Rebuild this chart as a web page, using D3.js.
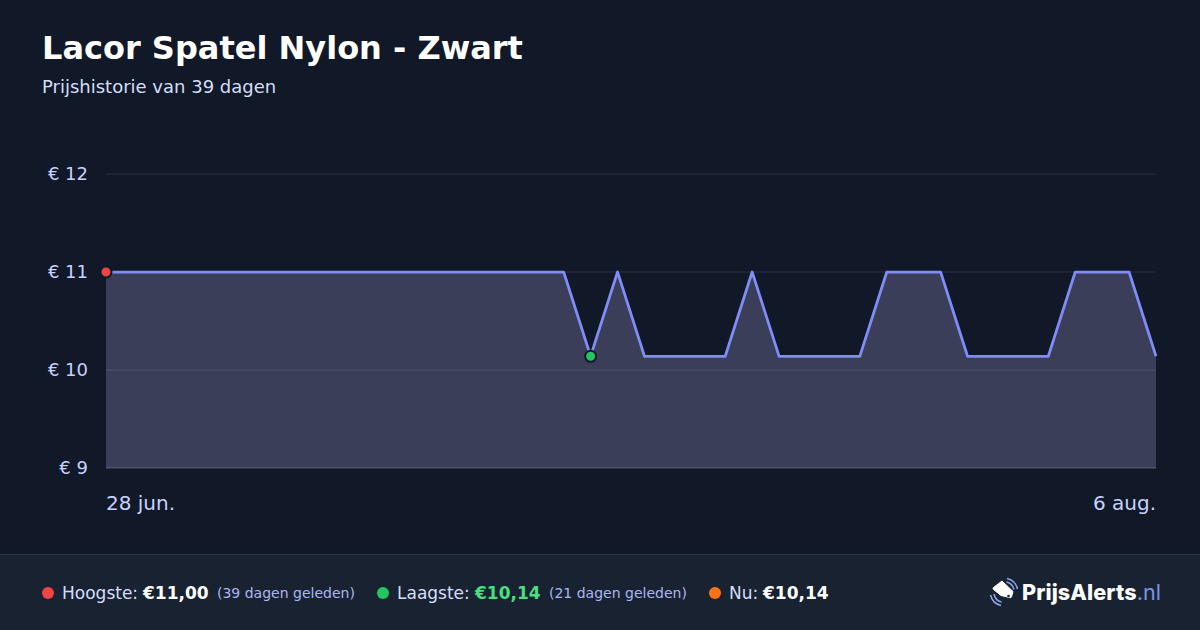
<!DOCTYPE html>
<html><head><meta charset="utf-8">
<script src="https://cdn.jsdelivr.net/npm/d3@7"></script>
<style>html,body{margin:0;padding:0;background:#111827;overflow:hidden}svg{display:block}text{font-family:"DejaVu Sans",sans-serif}</style>
</head><body><svg id="c" width="1200" height="630"></svg>
<script>
const title="Lacor Spatel Nylon - Zwart";
const subtitle="Prijshistorie van 39 dagen";
const prices=[11,11,11,11,11,11,11,11,11,11,11,11,11,11,11,11,11,11,10.14,11,10.14,10.14,10.14,10.14,11,10.14,10.14,10.14,10.14,11,11,11,10.14,10.14,10.14,10.14,11,11,11,10.14];
const yTicks=[9,10,11,12];
const xLabels=["28 jun.","6 aug."];
const highIndex=0, lowIndex=18;

const svg=d3.select("#c");
svg.append("rect").attr("width",1200).attr("height",630).attr("fill","#111827");
const x=d3.scaleLinear().domain([0,prices.length-1]).range([106,1156]);
const y=d3.scaleLinear().domain([9,12]).range([468,174]);

svg.append("text").attr("x",42).attr("y",59).attr("font-size",32).attr("font-weight",700).attr("fill","#fff").text(title);
svg.append("text").attr("x",42).attr("y",93).attr("font-size",18).attr("fill","#d3dff8").text(subtitle);

const area=d3.area().x((d,i)=>x(i)).y0(y(9)).y1(d=>y(d));
const line=d3.line().x((d,i)=>x(i)).y(d=>y(d));
svg.append("path").datum(prices).attr("d",area).attr("fill","#3a3e58");

svg.append("g").selectAll("line").data(yTicks).join("line")
 .attr("x1",106).attr("x2",1156).attr("y1",d=>y(d)).attr("y2",d=>y(d))
 .attr("stroke","#ffffff").attr("stroke-opacity",d=>d===9?.12:.05).attr("stroke-width",2);
svg.append("g").selectAll("text").data(yTicks).join("text")
 .attr("x",88).attr("y",d=>y(d)+6).attr("text-anchor","end").attr("font-size",18).attr("fill","#c7d2fe").text(d=>"€ "+d);

svg.append("path").datum(prices).attr("d",line).attr("fill","none").attr("stroke","#818cf8").attr("stroke-width",2.75).attr("stroke-linejoin","round");

[[highIndex,"#ef4444"],[lowIndex,"#22c55e"]].forEach(([i,c])=>{
 svg.append("circle").attr("cx",x(i)).attr("cy",y(prices[i])).attr("r",5.5).attr("fill",c).attr("stroke","#111827").attr("stroke-width",2);
});

svg.append("text").attr("x",106).attr("y",510).attr("font-size",20).attr("fill","#c7d2fe").text(xLabels[0]);
svg.append("text").attr("x",1156).attr("y",510).attr("text-anchor","end").attr("font-size",20).attr("fill","#c7d2fe").text(xLabels[1]);

svg.append("rect").attr("y",554).attr("width",1200).attr("height",76).attr("fill","#182231");
svg.append("line").attr("x1",0).attr("x2",1200).attr("y1",554.5).attr("y2",554.5).attr("stroke","#252f50");

function legend(cx,color,label,lx,val,vx,vcolor,note,nx){
 svg.append("circle").attr("cx",cx).attr("cy",593).attr("r",6).attr("fill",color);
 svg.append("text").attr("x",lx).attr("y",599).attr("font-size",17).attr("fill","#d4defc").text(label);
 svg.append("text").attr("x",vx).attr("y",599).attr("font-size",17).attr("font-weight",700).attr("fill",vcolor).text(val);
 if(note)svg.append("text").attr("x",nx).attr("y",598).attr("font-size",14).attr("fill","#aab8f0").text(note);
}
legend(48,"#ef4444","Hoogste:",62,"€11,00",143,"#fff","(39 dagen geleden)",217);
legend(383,"#22c55e","Laagste:",397,"€10,14",475,"#4ade80","(21 dagen geleden)",549);
legend(715,"#f97316","Nu:",729,"€10,14",763,"#fff",null,0);

const logo=svg.append("g");
logo.append("path").attr("d","M1002 581 L1013 591.5 L1011.5 597 Q1011 598 1009.5 597.5 L1001 595.5 L993.5 589.5 Q992.5 588.5 993.5 587.5 Z").attr("fill","#fff").attr("stroke","#fff").attr("stroke-width",1).attr("stroke-linejoin","round");
logo.append("circle").attr("cx",1008.5).attr("cy",596).attr("r",1.3).attr("fill","#182231");
logo.append("path").attr("d","M1006.5 582 A10 10 0 0 1 1014 589.5 M1007 578.5 A14 14 0 0 1 1017.5 589 M994 594 A10 10 0 0 0 1001.5 602 M990.5 595 A14 14 0 0 0 1001 605.5").attr("fill","none").attr("stroke","#8ea2e8").attr("stroke-width",1.5);
const t=svg.append("text").attr("x",1022).attr("y",600).attr("font-size",21.6).attr("letter-spacing",.1).style("font-family","Inter, sans-serif");
t.append("tspan").attr("font-weight",800).attr("fill","#fff").text("PrijsAlerts");
t.append("tspan").attr("fill","#7c94e8").text(".nl");
</script></body></html>
